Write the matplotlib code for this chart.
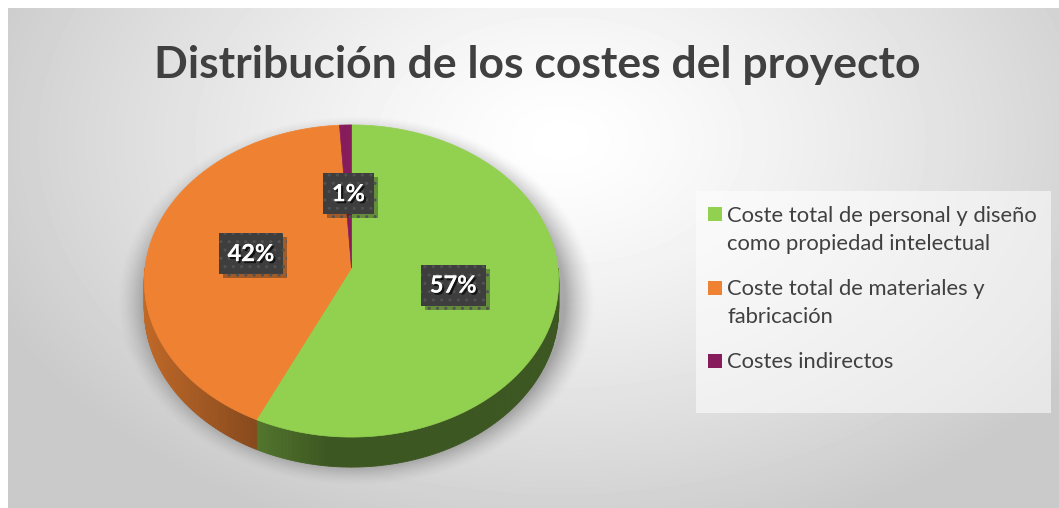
import numpy as np
import matplotlib

matplotlib.use("Agg")

import matplotlib.pyplot as plt
import matplotlib.patheffects as pe
from matplotlib.patches import Rectangle

# datos del grafico
title = "Distribución de los costes del proyecto"
categories = [
    "Coste total de personal y diseño\ncomo propiedad intelectual",
    "Coste total de materiales y\nfabricación",
    "Costes indirectos",
]
values = [57, 42, 1]
slice_colors = ["#92d050", "#ef8232", "#861c5c"]

plt.rcParams["font.family"] = ["Lato", "DejaVu Sans"]
plt.rcParams["hatch.linewidth"] = 1.0

W, H = 1059, 508
fig = plt.figure(figsize=(W / 100, H / 100), dpi=100, facecolor="white")
ax = fig.add_axes([0, 0, 1, 1])
ax.axis("off")

# fondo con degradado radial
gx, gy = np.meshgrid(np.arange(8, W), np.arange(8, H))
d = np.sqrt(((gx - 560) / 620.0) ** 2 + ((gy - 140) / 420.0) ** 2)
bg = 1 - 0.21 * np.clip(d, 0, 1) ** 1.3
ax.imshow(bg, extent=(8, W, H, 8), cmap="gray", vmin=0, vmax=1,
          interpolation="bilinear", zorder=0)

# geometria de la tarta en perspectiva
cx, cy = 351.5, 268.0
A, B, k = 206.5, 155.0, 0.0833
depth = 30.0


def project(t, r=1.0):
    """Angulo en sentido horario desde las 12 -> coordenadas en pantalla."""
    u = r * np.sin(t)
    v = r * np.cos(t)
    s = 1 + k * v
    return cx + A * u / s, cy - B * v / s, v


def side_depth(v):
    return depth * (1 - k) / (1 + k * v)


# sombra difusa bajo la tarta
sx, sy = np.meshgrid(np.arange(W), np.arange(H))
rho = np.sqrt(((sx - 356) / 222.0) ** 2 + ((sy - 300) / 172.0) ** 2)
shadow_alpha = 0.30 * np.clip((1.08 - rho) / 0.14, 0, 1) ** 1.5
shadow = np.zeros((H, W, 4))
shadow[..., 3] = shadow_alpha
ax.imshow(shadow, extent=(0, W, H, 0), interpolation="bilinear", zorder=1)

ax.set_aspect("auto")
ax.set_xlim(0, W)
ax.set_ylim(H, 0)

frac = np.array(values, dtype=float) / sum(values)
edges = np.concatenate([[0], np.cumsum(frac)]) * 2 * np.pi


def shade(x):
    return np.clip(0.80 - 0.40 * (x - 145) / 190.0, 0.42, 0.80)


# lateral (solo la parte frontal visible)
for i, color in enumerate(slice_colors):
    t0 = max(edges[i], np.pi / 2)
    t1 = min(edges[i + 1], 3 * np.pi / 2)
    if t1 <= t0:
        continue
    ts = np.linspace(t0, t1, 120)
    x, y, v = project(ts)
    yb = y + side_depth(v)
    base = np.array(matplotlib.colors.to_rgb(color))
    for j in range(len(ts) - 1):
        f = shade(0.5 * (x[j] + x[j + 1]))
        c = np.clip(base * f, 0, 1)
        ax.fill([x[j], x[j + 1], x[j + 1], x[j]],
                [y[j], y[j + 1], yb[j + 1], yb[j]],
                color=c, lw=0.6, ec=c, zorder=2)

# cara superior
for i, color in enumerate(slice_colors):
    ts = np.linspace(edges[i], edges[i + 1], max(8, int(300 * frac[i])))
    x, y, _ = project(ts)
    ax.fill(np.concatenate([[cx], x]), np.concatenate([[cy], y]),
            color=color, lw=0.5, ec=color, zorder=3)

# etiquetas de porcentaje
for i, val in enumerate(values):
    mid = 0.5 * (edges[i] + edges[i + 1])
    lx, ly, _ = project(mid, 0.5)
    ax.text(lx, ly, f"{val / sum(values):.0%}", ha="center", va="center",
            fontsize=17, fontweight="bold", color="white", zorder=6,
            path_effects=[pe.withSimplePatchShadow(offset=(1.5, -1.5),
                                                   shadow_rgbFace="black", alpha=0.7),
                          pe.Normal()],
            bbox=dict(boxstyle="square,pad=0.38", facecolor="#3e3e3e",
                      edgecolor="#525252", linewidth=0, hatch="..",
                      path_effects=[pe.withSimplePatchShadow(offset=(3, -3), alpha=0.35),
                                    pe.Normal()]))

# titulo
ax.text(537, 78, title, ha="center", va="baseline", fontsize=32,
        fontweight="bold", color="#404040", zorder=5)

# leyenda
ax.add_patch(Rectangle((696, 191), 355, 222, facecolor="white", alpha=0.55,
                       lw=0, zorder=4))
line_h, gap = 28, 17.5
y = 214
for name, color in zip(categories, slice_colors):
    ax.add_patch(Rectangle((708, y - 7), 14, 14, facecolor=color, lw=0, zorder=5))
    lines = name.split("\n")
    for n, line in enumerate(lines):
        ax.text(727, y + n * line_h + 7.5, line, ha="left", va="baseline",
                fontsize=15.8, color="#404040", zorder=5)
    y += len(lines) * line_h + gap

fig.savefig("out.png", dpi=100, facecolor="white")
